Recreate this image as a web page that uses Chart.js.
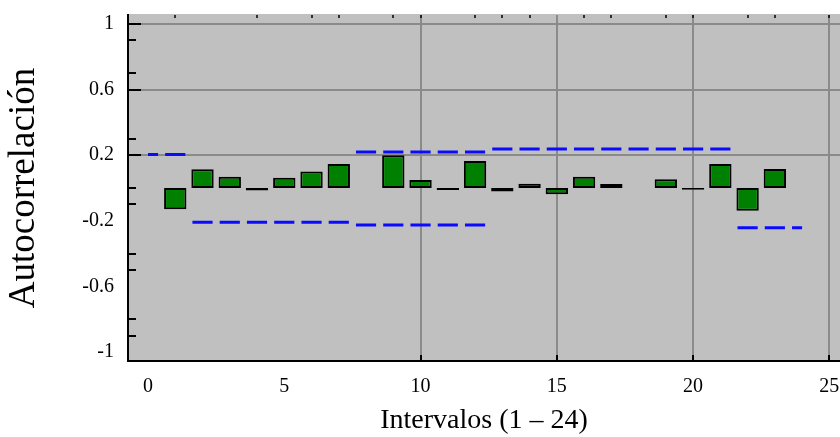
<!DOCTYPE html>
<html>
<head>
<meta charset="utf-8">
<script src="https://cdn.jsdelivr.net/npm/chart.js@4/dist/chart.umd.min.js"></script>
<style>
  html, body { margin: 0; padding: 0; background: #fff; }
  #caja { width: 840px; height: 437px; }
</style>
</head>
<body>
<div id="caja"><canvas id="grafica"></canvas></div>
<script>
// datos
    const intervalos = [1, 2, 3, 4, 5, 6, 7, 8, 9, 10, 11, 12, 13, 14, 15, 16, 17, 18, 19, 20, 21, 22, 23, 24];
    const autocorr = [-0.13, 0.114, 0.069, -0.015, 0.063, 0.1, 0.146, 0, 0.2, 0.049, -0.012, 0.165,
                      -0.022, 0.026, -0.038, 0.069, 0.024, 0, 0.053, -0.01, 0.146, -0.138, 0.116, 0];

// limites (intervalo 0 a 24), null donde no se ve
    const limSup = [0.205, 0.205, null, null, null, null, null, null, 0.22, 0.22, 0.22, 0.22, 0.22,
                    0.238, 0.238, 0.238, 0.238, 0.238, 0.238, 0.238, 0.238, 0.238, null, null, null];
    const limInf = [null, null, -0.209, -0.209, -0.209, -0.209, -0.209, -0.209, -0.226, -0.226, -0.226, -0.226, -0.226,
                    null, null, null, null, null, null, null, null, null, -0.242, -0.242, -0.242];

// ejes
    const ticksX = [0, 5, 10, 15, 20, 25];
    const ticksY = [1, 0.6, 0.2, -0.2, -0.6, -1];
    const marcasY = [0.9, 0.7, 0.3, 0, -0.1, -0.4, -0.5, -0.8, -0.9];
    const marcasX = [1, 4, 6, 7, 9, 10, 12, 13, 14, 16, 17, 19, 20, 22, 23, 25];

// cada limite se dibuja como un trazo corto por intervalo
    function segmentos(lim) {
        let pts = [];
        lim.forEach((v, k) => {
            if (v === null) return;
            pts.push({ x: Math.max(0, k - 0.37), y: v });
            pts.push({ x: Math.min(24, k + 0.37), y: v });
            pts.push({ x: k + 0.5, y: null });
        });
        return pts;
    }

    const fuente = 'Liberation Serif';

//Fondo gris y marcas de los ejes
    const fondo = {
        id: 'fondo',
        beforeDraw(chart) {
            const { ctx, chartArea: a } = chart;
            ctx.save();
            ctx.fillStyle = '#c0c0c0';
            ctx.fillRect(a.left, a.top - 1, a.right - a.left, a.bottom - a.top + 1);
            ctx.restore();
        },
        afterDraw(chart) {
            const { ctx, chartArea: a, scales } = chart;
            ctx.save();
            ctx.strokeStyle = '#000';
            ctx.lineWidth = 2;
            ctx.beginPath();
            ticksY.filter(v => v >= 0.2).forEach(v => {
                let y = Math.round(scales.y.getPixelForValue(v));
                ctx.moveTo(a.left, y); ctx.lineTo(a.left + 13, y);
            });
            marcasY.forEach(v => {
                let y = Math.round(scales.y.getPixelForValue(v));
                ctx.moveTo(a.left, y); ctx.lineTo(a.left + 8, y);
            });
            ticksX.filter(v => v >= 10).forEach(v => {
                let x = Math.round(scales.x.getPixelForValue(v));
                ctx.moveTo(x, a.bottom); ctx.lineTo(x, a.bottom - 6);
            });
            ctx.stroke();
            ctx.lineWidth = 1.5;
            ctx.beginPath();
            marcasX.forEach(v => {
                let x = Math.round(scales.x.getPixelForValue(v));
                ctx.moveTo(x, a.top); ctx.lineTo(x, a.top + 3);
            });
            ctx.stroke();
            ctx.restore();
        }
    };

//Grafica
    const ctx = document.getElementById('grafica').getContext('2d');

    const chart = new Chart(ctx, {
        type: 'bar',
        data: {
            datasets: [
                {
                    type: 'bar',
                    data: intervalos.map((k, i) => ({ x: k, y: autocorr[i] })),
                    backgroundColor: '#008000',
                    borderColor: '#000',
                    borderWidth: 2,
                    borderSkipped: false,
                    barPercentage: 0.82,
                    categoryPercentage: 1
                },
                {
                    type: 'line',
                    data: segmentos(limSup),
                    borderColor: '#0a0aff',
                    borderWidth: 3,
                    pointRadius: 0,
                    spanGaps: false
                },
                {
                    type: 'line',
                    data: segmentos(limInf),
                    borderColor: '#0a0aff',
                    borderWidth: 3,
                    pointRadius: 0,
                    spanGaps: false
                }
            ]
        },
        options: {
            responsive: true,
            maintainAspectRatio: false,
            animation: false,
            layout: { padding: { top: 15, left: 0, right: 0, bottom: 0 } },
            plugins: { legend: { display: false }, tooltip: { enabled: false } },
            scales: {
                x: {
                    type: 'linear',
                    offset: false,
                    min: -0.734,
                    max: 25.39,
                    afterBuildTicks: (s) => { s.ticks = ticksX.map(v => ({ value: v })); },
                    afterFit: (s) => { s.height = 76; s.paddingLeft = 0; s.paddingRight = 0; },
                    grid: {
                        offset: false,
                        drawTicks: false,
                        lineWidth: 2,
                        color: (c) => (c.tick && c.tick.value >= 10) ? '#8a8a8a' : 'rgba(0,0,0,0)'
                    },
                    border: { display: true, color: '#000', width: 2 },
                    ticks: {
                        padding: 14,
                        color: '#000',
                        maxRotation: 0,
                        font: { family: fuente, size: 20 }
                    },
                    title: {
                        display: true,
                        text: 'Intervalos (1 – 24)',
                        color: '#000',
                        padding: 0,
                        font: { family: fuente, size: 28 }
                    }
                },
                y: {
                    min: -1.055,
                    max: 1.055,
                    afterBuildTicks: (s) => { s.ticks = ticksY.map(v => ({ value: v })); },
                    afterFit: (s) => { s.width = 128; s.paddingTop = 0; s.paddingBottom = 0; },
                    grid: {
                        drawTicks: false,
                        lineWidth: 2,
                        color: (c) => (c.tick && c.tick.value >= 0.2) ? '#8a8a8a' : 'rgba(0,0,0,0)'
                    },
                    border: { display: true, color: '#000', width: 2 },
                    ticks: {
                        padding: 14,
                        color: '#000',
                        font: { family: fuente, size: 20 },
                        callback: (v) => String(v)
                    },
                    title: {
                        display: true,
                        text: 'Autocorrelación',
                        color: '#000',
                        padding: { top: 2, bottom: 0 },
                        font: { family: fuente, size: 37 }
                    }
                }
            }
        },
        plugins: [fondo]
    });
</script>
</body>
</html>
